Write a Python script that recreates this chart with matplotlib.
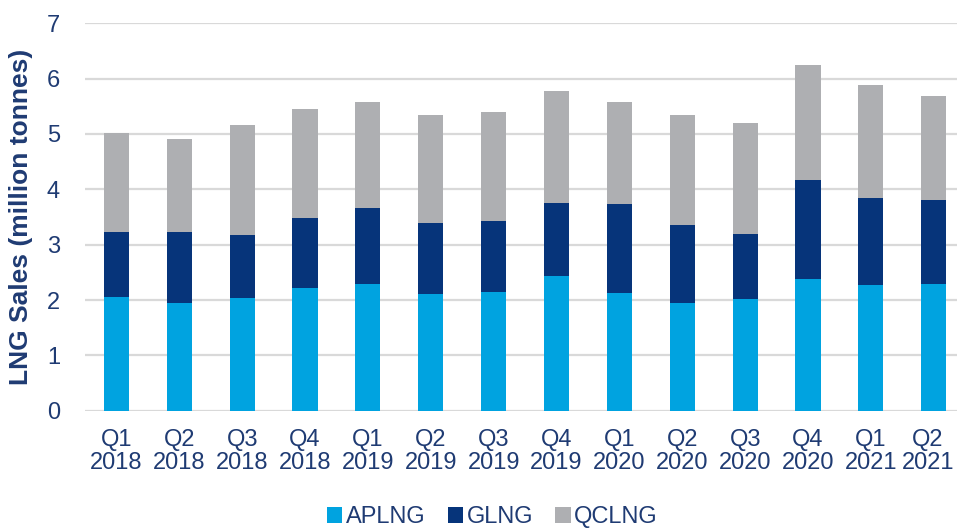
import numpy as np
import matplotlib.pyplot as plt
import matplotlib.transforms as mtransforms

plt.rcParams['font.family'] = ['Liberation Sans', 'DejaVu Sans']

quarters = ['Q1\n2018', 'Q2\n2018', 'Q3\n2018', 'Q4\n2018',
            'Q1\n2019', 'Q2\n2019', 'Q3\n2019', 'Q4\n2019',
            'Q1\n2020', 'Q2\n2020', 'Q3\n2020', 'Q4\n2020',
            'Q1\n2021', 'Q2\n2021']
# cumulative tops
aplng_top = [2.06, 1.94, 2.04, 2.22, 2.29, 2.10, 2.15, 2.43, 2.13, 1.94, 2.01, 2.38, 2.27, 2.29]
glng_top = [3.22, 3.22, 3.17, 3.49, 3.66, 3.39, 3.43, 3.75, 3.73, 3.36, 3.19, 4.17, 3.84, 3.80]
total_top = [5.02, 4.91, 5.16, 5.45, 5.58, 5.35, 5.39, 5.77, 5.58, 5.35, 5.19, 6.25, 5.88, 5.69]

aplng = np.array(aplng_top)
glng = np.array(glng_top) - aplng
qclng = np.array(total_top) - np.array(glng_top)

txt = '#1F3B73'
x = np.arange(len(quarters))

fig = plt.figure(figsize=(9.57, 5.28), dpi=100)
ax = fig.add_axes([85 / 957, 117.3 / 528, (957 - 85) / 957, (504.7 - 117.3) / 528])

w = 0.4
ax.bar(x, aplng, w, color='#00A3E0', label='APLNG', zorder=3)
ax.bar(x, glng, w, bottom=aplng, color='#06347A', label='GLNG', zorder=3)
ax.bar(x, qclng, w, bottom=aplng + glng, color='#AEAFB2', label='QCLNG', zorder=3)

ax.set_xlim(-0.5, 13.37)
ax.set_ylim(0, 7)
ax.set_yticks(range(8))
ax.yaxis.grid(True, color='#D9D9D9', linewidth=1.6, zorder=0)
ax.set_xticks(x)
ax.set_xticklabels(quarters, linespacing=1.1)
ax.tick_params(axis='both', length=0, labelsize=17, colors=txt)
ax.tick_params(axis='y', pad=18)
ax.tick_params(axis='x', pad=13)
for s in ax.spines.values():
    s.set_visible(False)

# keep the last label inside the picture
last = ax.get_xticklabels()[-1]
last.set_transform(last.get_transform() + mtransforms.ScaledTranslation(-0.06, 0, fig.dpi_scale_trans))

ax.set_ylabel('LNG Sales (million tonnes)', fontsize=19, fontweight='bold', color=txt, labelpad=10)

leg = fig.legend(loc='center', bbox_to_anchor=(0.5146, 1 - 517 / 528), ncol=3, frameon=False,
                 fontsize=17, handlelength=0.64, handleheight=0.64, handletextpad=0.15,
                 columnspacing=0.95)
for t in leg.get_texts():
    t.set_color(txt)

fig.savefig('out.png', dpi=100)
